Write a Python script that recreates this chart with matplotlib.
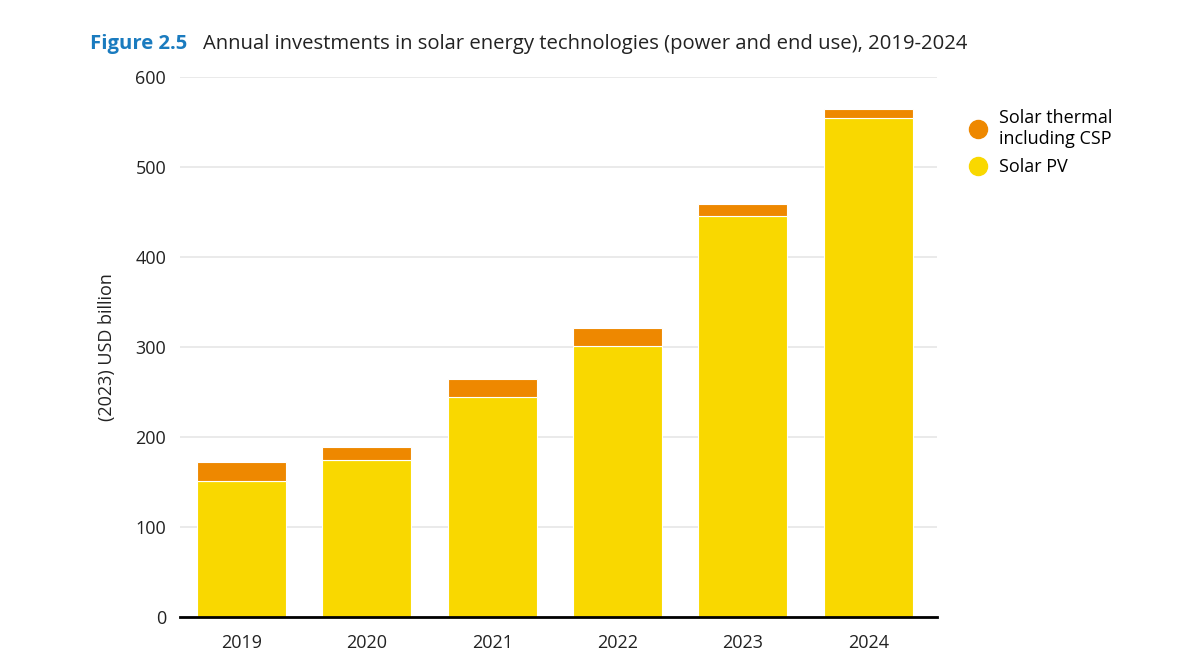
import matplotlib
matplotlib.use("Agg")
import matplotlib.pyplot as plt
import numpy as np
from matplotlib.lines import Line2D

years = ["2019", "2020", "2021", "2022", "2023", "2024"]
solar_pv = [151, 174, 244, 301, 445, 554]
solar_thermal = [21, 15, 20, 20, 14, 11]

pv_color = "#F9D800"
thermal_color = "#EE8800"

plt.rcParams['font.family'] = ['Open Sans', 'DejaVu Sans']

fig = plt.figure(figsize=(12, 6.61), dpi=100)
ax = fig.add_axes([0.15, 0.0666, 0.631, 0.8169])

x = np.arange(len(years))
width = 0.71
ax.bar(x, solar_pv, width, color=pv_color, edgecolor="white", linewidth=0.8,
       label="Solar PV", zorder=3)
ax.bar(x, solar_thermal, width, bottom=solar_pv, color=thermal_color,
       edgecolor="white", linewidth=0.8, label="Solar thermal\nincluding CSP", zorder=3)

ax.set_ylim(0, 600)
ax.set_xlim(-0.49, 5.55)
ax.set_yticks(range(0, 601, 100))
ax.set_xticks(x)
ax.set_xticklabels(years)
ax.grid(axis="y", color="#e6e6e6", linewidth=1.2, zorder=0)
for s in ["top", "left", "right"]:
    ax.spines[s].set_visible(False)
ax.spines["bottom"].set_linewidth(2)
ax.spines["bottom"].set_zorder(4)
ax.tick_params(axis="both", length=0, labelsize=13, colors="#222222")
ax.tick_params(axis="x", pad=12)
ax.tick_params(axis="y", pad=10)
ax.set_ylabel("(2023) USD billion", fontsize=13, color="#222222", labelpad=14)

# legend drawn as circle markers, thermal first
h, l = ax.get_legend_handles_labels()
handles = [Line2D([0], [0], marker="o", linestyle="", markersize=13, color=thermal_color),
           Line2D([0], [0], marker="o", linestyle="", markersize=13, color=pv_color)]
fig.legend(handles, [l[1], l[0]], loc="upper left", bbox_to_anchor=(0.786, 0.86),
           frameon=False, fontsize=13, handletextpad=0.2, labelspacing=0.6)

fig.text(0.075, 0.933, "Figure 2.5", fontsize=14.6, fontweight="bold", color="#1a7bbf",
         va="center")
fig.text(0.169, 0.933, "Annual investments in solar energy technologies (power and end use), 2019-2024",
         fontsize=14.6, color="#222222", va="center")

fig.savefig("out.png", dpi=100)
